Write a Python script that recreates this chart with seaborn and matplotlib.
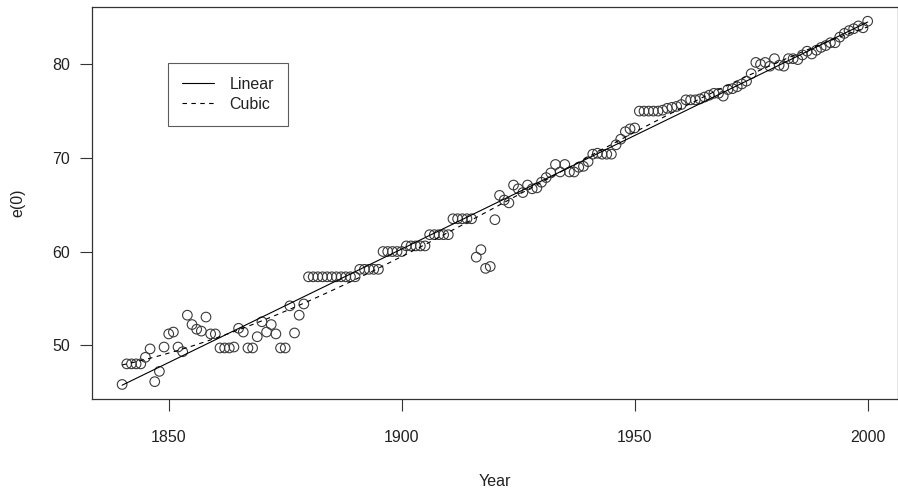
import numpy as np
import pandas as pd
import matplotlib
matplotlib.use("Agg")
import matplotlib.pyplot as plt
import seaborn as sns

# Record female life expectancy at birth, e(0), by calendar year
years = list(range(1840, 2001))
e0 = [
    45.8, 48.0, 48.0, 48.0, 48.0, 48.7, 49.6, 46.1, 47.2, 49.8,   # 1840-1849
    51.2, 51.4, 49.8, 49.3, 53.2, 52.2, 51.7, 51.5, 53.0, 51.2,   # 1850-1859
    51.2, 49.7, 49.7, 49.7, 49.8, 51.8, 51.4, 49.7, 49.7, 50.9,   # 1860-1869
    52.5, 51.4, 52.2, 51.2, 49.7, 49.7, 54.2, 51.3, 53.2, 54.4,   # 1870-1879
    57.3, 57.3, 57.3, 57.3, 57.3, 57.3, 57.3, 57.3, 57.3, 57.3,   # 1880-1889
    57.3, 58.1, 58.1, 58.1, 58.1, 58.1, 60.0, 60.0, 60.0, 60.0,   # 1890-1899
    60.0, 60.6, 60.6, 60.6, 60.6, 60.6, 61.8, 61.8, 61.8, 61.8,   # 1900-1909
    61.8, 63.5, 63.5, 63.5, 63.5, 63.5, 59.4, 60.2, 58.2, 58.4,   # 1910-1919
    63.4, 66.0, 65.5, 65.2, 67.1, 66.7, 66.3, 67.1, 66.7, 66.8,   # 1920-1929
    67.4, 67.9, 68.4, 69.3, 68.5, 69.3, 68.5, 68.5, 69.0, 69.1,   # 1930-1939
    69.6, 70.4, 70.5, 70.4, 70.4, 70.4, 71.4, 72.0, 72.8, 73.1,   # 1940-1949
    73.2, 75.0, 75.0, 75.0, 75.0, 75.0, 75.1, 75.3, 75.4, 75.5,   # 1950-1959
    75.7, 76.2, 76.2, 76.2, 76.3, 76.5, 76.7, 76.9, 76.9, 76.6,   # 1960-1969
    77.3, 77.4, 77.6, 77.9, 78.2, 79.0, 80.2, 80.0, 80.2, 79.8,   # 1970-1979
    80.6, 79.9, 79.8, 80.6, 80.6, 80.5, 81.0, 81.4, 81.1, 81.5,   # 1980-1989
    81.8, 82.0, 82.3, 82.3, 82.9, 83.3, 83.6, 83.8, 84.1, 83.9,   # 1990-1999
    84.6,                                                         # 2000
]
x_ticks = [1850, 1900, 1950, 2000]
y_ticks = [50, 60, 70, 80]
fit_labels = ["Linear", "Cubic"]

df = pd.DataFrame({"Year": years, "e0": e0})

# Least-squares trends: straight line and cubic polynomial in (centred) year
t = (df["Year"] - df["Year"].mean()) / 80.0
df["Linear"] = np.polyval(np.polyfit(t, df["e0"], 1), t)
df["Cubic"] = np.polyval(np.polyfit(t, df["e0"], 3), t)

sns.set_theme(style="white")
plt.rcParams["font.family"] = ["Liberation Sans", "DejaVu Sans"]
plt.rcParams["font.size"] = 11.5

fig = plt.figure(figsize=(8.98, 4.92), dpi=100)
ax = fig.add_axes([92.3 / 898, 1 - 399 / 492, (897.5 - 92.3) / 898, (399 - 6.7) / 492])

ink = "#222222"
sns.scatterplot(data=df, x="Year", y="e0", ax=ax, marker="o", s=48,
                facecolor="none", edgecolor="#3a3a3a", linewidth=0.8,
                zorder=2, legend=False)
sns.lineplot(data=df, x="Year", y="Linear", ax=ax, color="black",
             linewidth=0.8, zorder=3, label=fit_labels[0])
sns.lineplot(data=df, x="Year", y="Cubic", ax=ax, color="black",
             linewidth=0.8, linestyle=(0, (4, 4)), zorder=3,
             label=fit_labels[1])

# 4% padding around the data, as in classic base-graphics plots
xr = df["Year"].max() - df["Year"].min()
yr = df["e0"].max() - df["e0"].min()
ax.set_xlim(df["Year"].min() - 0.04 * xr, df["Year"].max() + 0.04 * xr)
ax.set_ylim(df["e0"].min() - 0.04 * yr, df["e0"].max() + 0.04 * yr)

ax.set_xticks(x_ticks)
ax.set_yticks(y_ticks)
ax.tick_params(axis="both", direction="out", length=8.6, width=0.8,
               color="#333333", labelcolor=ink, labelsize=11.5)
ax.tick_params(axis="x", pad=14)
ax.tick_params(axis="y", pad=7.5)
ax.tick_params(bottom=True, left=True)

for sp in ax.spines.values():
    sp.set_visible(True)
    sp.set_color("#333333")
    sp.set_linewidth(0.9)

ax.set_xlabel("Year", fontsize=11.5, color=ink)
ax.set_ylabel("e(0)", fontsize=11.5, color=ink)
ax.xaxis.label.set_va("center")
ax.yaxis.label.set_va("center")
ax.xaxis.set_label_coords(0.5, (399 - 481) / 392.3)
ax.yaxis.set_label_coords((18 - 92.3) / 805.2, 0.5)

handles, labels = ax.get_legend_handles_labels()
leg = ax.legend(handles, labels, loc="upper left",
                bbox_to_anchor=(168 / 898, 1 - 63 / 492),
                bbox_transform=fig.transFigure, borderaxespad=0,
                frameon=True, fancybox=False, shadow=False,
                fontsize=11.5, handlelength=2.0, handletextpad=1.0,
                labelspacing=0.34, borderpad=0.85)
leg.get_frame().set_edgecolor("#333333")
leg.get_frame().set_linewidth(0.8)
for txt in leg.get_texts():
    txt.set_color(ink)

fig.savefig("out.png", dpi=100)
